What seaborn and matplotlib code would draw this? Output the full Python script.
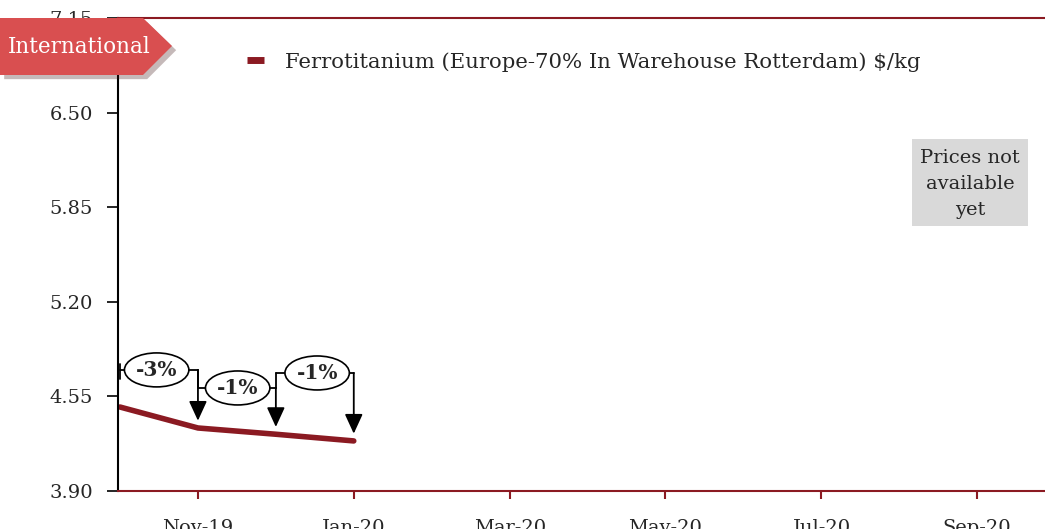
import numpy as np
import pandas as pd
import seaborn as sns
import matplotlib.pyplot as plt
from matplotlib.patches import Polygon, Rectangle
from matplotlib import patheffects as pe

# data
months = ["Oct-19", "Nov-19", "Dec-19", "Jan-20"]
prices = [4.477, 4.333, 4.29, 4.244]
tick_labels = ["Nov-19", "Jan-20", "Mar-20", "May-20", "Jul-20", "Sep-20"]
series_name = "Ferrotitanium (Europe-70% In Warehouse Rotterdam) $/kg"

# colours
dark_red = "#8B1A22"
tag_red = "#D94F50"

sns.set_style("white")
plt.rcParams["font.family"] = ["DejaVu Serif", "DejaVu Sans"]

df = pd.DataFrame({"idx": np.arange(len(months)), "price": prices, "month": months})

fig = plt.figure(figsize=(10.45, 5.29), dpi=100)
ax = fig.add_axes([118 / 1045, 38 / 529, 937 / 1045, 473 / 529])

sns.lineplot(data=df, x="idx", y="price", color=dark_red, linewidth=4,
             label=series_name, ax=ax, solid_capstyle="round")

ax.set_xlim(-0.026, 12)
ax.set_ylim(3.90, 7.15)
ax.set_yticks(np.arange(3.90, 7.16, 0.65))
ax.set_yticklabels([f"{v:.2f}" for v in np.arange(3.90, 7.16, 0.65)])
ax.set_xticks([1, 3, 5, 7, 9, 11])
ax.set_xticklabels(tick_labels)
ax.set_xlabel("")
ax.set_ylabel("")

for s in ["top", "bottom"]:
    ax.spines[s].set_color(dark_red)
    ax.spines[s].set_linewidth(1.5)
ax.spines["left"].set_color("black")
ax.spines["left"].set_linewidth(1.5)
ax.spines["right"].set_visible(False)

ax.tick_params(axis="y", direction="out", length=8, width=1.2, color="black",
               pad=10, labelsize=14, left=True)
ax.tick_params(axis="x", direction="out", length=6, width=1.5, color=dark_red,
               pad=14, labelsize=14, bottom=True)

# legend
leg = ax.legend(loc="upper left", bbox_to_anchor=(0.117, 0.968), frameon=False,
                fontsize=15.3, handlelength=0.8, handletextpad=1.0)
for h in leg.get_lines():
    h.set_linewidth(5)
    h.set_solid_capstyle("butt")

# change brackets
levels = [4.732, 4.608, 4.711]
label_x = [0.47, 1.51, 2.53]
for i in range(len(prices) - 1):
    pct = (prices[i + 1] / prices[i] - 1) * 100
    lv = levels[i]
    if i == 0:
        ax.plot([i, i], [lv - 0.06, lv + 0.04], color="black", lw=1.3,
                clip_on=False, zorder=3)
    else:
        ax.plot([i, i], [lv, levels[i - 1]], color="black", lw=1.3, zorder=3)
    ax.plot([i, i + 1], [lv, lv], color="black", lw=1.3, zorder=3)
    ax.annotate("", xy=(i + 1, prices[i + 1] + 0.05), xytext=(i + 1, lv),
                arrowprops=dict(arrowstyle="-|>,head_length=1.2,head_width=0.55",
                                color="black", lw=1.3, shrinkA=0, shrinkB=0),
                zorder=3)
    ax.text(label_x[i], lv, f"{pct:.0f}%", ha="center", va="center",
            fontsize=14.5, fontweight="bold", zorder=4,
            bbox=dict(boxstyle="ellipse,pad=0.1", fc="white", ec="black", lw=1.2))

# "International" tag
tag = Polygon([(x / 100, (529 - y) / 100) for x, y in
               [(0, 18), (143, 18), (172, 46), (143, 75), (0, 75)]],
              closed=True, fc=tag_red, ec="none", zorder=10,
              transform=fig.dpi_scale_trans)
tag.set_path_effects([pe.SimplePatchShadow(offset=(3, -3), alpha=0.3), pe.Normal()])
fig.add_artist(tag)
fig.text(79 / 1045, 1 - 47 / 529, "International", color="white", fontsize=15.5,
         ha="center", va="center", zorder=11)

# prices not available box
fig.add_artist(Rectangle((912 / 1045, 1 - 226 / 529), 116 / 1045, 87 / 529,
                         transform=fig.transFigure, fc="#D9D9D9", ec="none", zorder=5))
fig.text(970 / 1045, 1 - 184 / 529, "Prices not\navailable\nyet", ha="center",
         va="center", fontsize=14, linespacing=1.55, zorder=6)

fig.savefig("out.png", dpi=100)
